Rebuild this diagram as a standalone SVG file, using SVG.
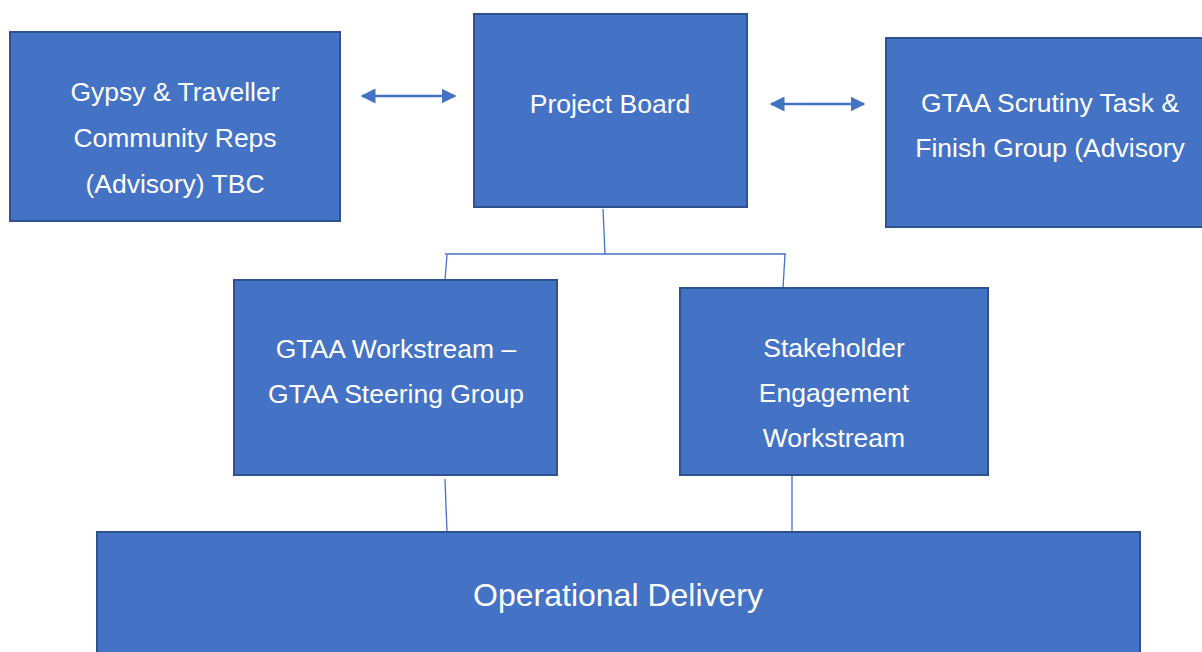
<svg xmlns="http://www.w3.org/2000/svg" width="1202" height="652" viewBox="0 0 1202 652">
<style>
.box{fill:#4472C4;stroke:#2F528F;stroke-width:2}
.t{font-family:"Liberation Sans",Arial,sans-serif;font-size:26.5px;fill:#fff;text-anchor:middle}
.big{font-size:32px}
.ln{stroke:#4472C4;stroke-width:1.3;fill:none}
.ar{stroke:#4472C4;stroke-width:2.5;fill:none}
</style>
<defs>
<marker id="ah" viewBox="0 0 10 10" refX="9" refY="5" markerWidth="6" markerHeight="6" orient="auto-start-reverse" markerUnits="strokeWidth">
<path d="M0,0 L10,5 L0,10 z" fill="#4472C4"/>
</marker>
</defs>
<rect width="1202" height="652" fill="#fff"/>
<g id="connectors">
<line class="ar" x1="362" y1="96" x2="455" y2="96" marker-start="url(#ah)" marker-end="url(#ah)"/>
<line class="ar" x1="771" y1="104" x2="864" y2="104" marker-start="url(#ah)" marker-end="url(#ah)"/>
<polyline class="ln" points="603,209 605,254"/>
<line class="ln" x1="445" y1="254" x2="786" y2="254"/>
<line class="ln" x1="447" y1="255" x2="445" y2="280"/>
<line class="ln" x1="785" y1="254" x2="783" y2="288"/>
<line class="ln" x1="445" y1="479" x2="447" y2="532"/>
<line class="ln" x1="792" y1="476" x2="792" y2="532"/>
</g>
<g id="gypsy">
<rect class="box" x="10" y="32" width="330" height="189"/>
<text class="t" x="175" y="101">Gypsy &amp; Traveller</text>
<text class="t" x="175" y="147">Community Reps</text>
<text class="t" x="175" y="193">(Advisory) TBC</text>
</g>
<g id="project-board">
<rect class="box" x="474" y="14" width="273" height="193"/>
<text class="t" x="610" y="113">Project Board</text>
</g>
<g id="scrutiny">
<rect class="box" x="886" y="38" width="330" height="189"/>
<text class="t" x="1050" y="112">GTAA Scrutiny Task &amp;</text>
<text class="t" x="1050" y="157">Finish Group (Advisory</text>
</g>
<g id="workstream">
<rect class="box" x="234" y="280" width="323" height="195"/>
<text class="t" x="396" y="358">GTAA Workstream –</text>
<text class="t" x="396" y="403">GTAA Steering Group</text>
</g>
<g id="stakeholder">
<rect class="box" x="680" y="288" width="308" height="187"/>
<text class="t" x="834" y="357">Stakeholder</text>
<text class="t" x="834" y="402">Engagement</text>
<text class="t" x="834" y="447">Workstream</text>
</g>
<g id="operational">
<rect class="box" x="97" y="532" width="1043" height="130"/>
<text class="t big" x="618" y="606">Operational Delivery</text>
</g>
</svg>
